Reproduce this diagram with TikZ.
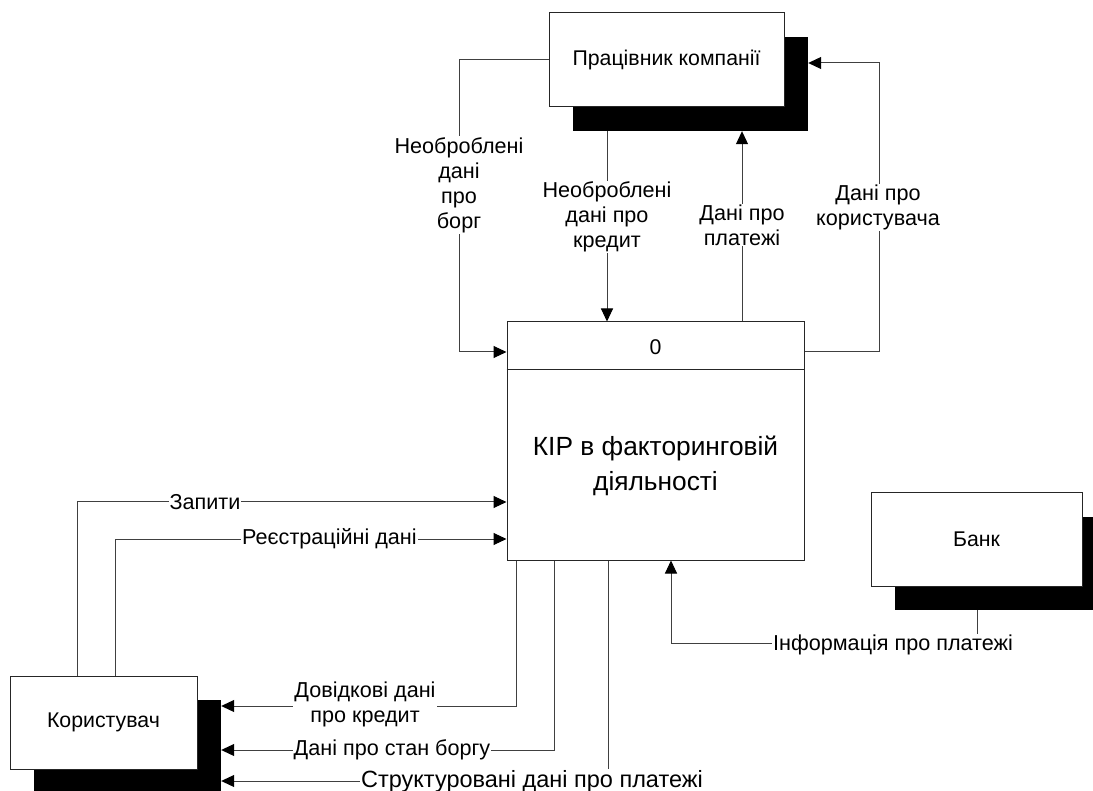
\documentclass[tikz,border=0pt]{standalone}
\usepackage{fontspec}
\setmainfont{Liberation Sans}
\usetikzlibrary{positioning,arrows.meta,backgrounds}
\tikzset{ext node/.style={rectangle,draw=black!85,fill=white,line width=1pt,inner sep=0pt,font=\fontsize{21.3}{25}\selectfont},
  shade node/.style={rectangle,fill=black,inner sep=0pt},
  flow/.style={draw=black!75,line width=1pt,-{Triangle[length=13pt,width=12pt,color=black,fill=black]}},
  flow label/.style={fill=white,inner sep=1pt,align=center,font=\fontsize{21.6}{25}\selectfont}}

\begin{document}
\begin{tikzpicture}[x=1pt,y=-1pt]
            \useasboundingbox (0,0) rectangle (1093,791);

            % externals and the process
            \node[ext node, minimum width=235pt, minimum height=94pt] (staff) at (666.5,60) {Працівник компанії};
            \node[ext node, minimum width=297pt, minimum height=238pt] (main) at (655.5,441) {};
            \node[ext node, minimum width=211pt, minimum height=93pt] (bank) at (976.5,539.5) {Банк};
            \node[ext node, minimum width=187pt, minimum height=93pt] (user) at (103.5,722.5) {Користувач};

            \begin{scope}[on background layer]
            \node[shade node, minimum width=235pt, minimum height=94pt] (staffsh) at ([shift={(24,24)}]staff.center) {};
            \node[shade node, minimum width=211pt, minimum height=93pt] (banksh) at ([shift={(24,24)}]bank.center) {};
            \node[shade node, minimum width=187pt, minimum height=93pt] (usersh) at ([shift={(24,24)}]user.center) {};
            \end{scope}

            \draw[black!85, line width=1pt] (main.west |- 0,370) -- (main.east |- 0,370);
            \node[font=\fontsize{21.3}{25}\selectfont] (mnum) at (main.north |- 0,347) {0};
            \node[font=\fontsize{26.3}{35}\selectfont, align=center] (mtitle) at (main.center |- 0,466) {КІР в факторинговій\\діяльності};

            % flows
            \draw[flow] (staff.west) -| (459,352) -- (main.west |- 0,352);
            \draw[flow] (staffsh.south -| 607,0) -- (main.north -| 607,0);
            \draw[flow] (main.north -| 742,0) -- (staffsh.south -| 742,0);
            \draw[flow] (main.east |- 0,352) -| (879,63) -- (staffsh.east |- 0,63);
            \draw[flow] (user.north -| 77,0) |- (main.west |- 0,502);
            \draw[flow] (user.north -| 115,0) |- (main.west |- 0,539);
            \draw[flow] (main.south -| 516,0) |- (usersh.east |- 0,706);
            \draw[flow] (main.south -| 554,0) |- (usersh.east |- 0,750);
            \draw[flow] (main.south -| 608,0) |- (usersh.east |- 0,781);
            \draw[flow] (banksh.south -| 977,0) |- (671,643) -- (main.south -| 671,0);

            \node[flow label] (debt) at (459,185) {Необроблені\\дані\\про\\борг};
            \node[flow label] (credit) at (607,217) {Необроблені\\дані про\\кредит};
            \node[flow label] (pay) at (742,225) {Дані про\\платежі};
            \node[flow label] (userdata) at (878,207.5) {Дані про\\користувача};
            \node[flow label] (req) at (205,502) {Запити};
            \node[flow label] (reg) at (329.5,539) {Реєстраційні дані};
            \node[flow label] (ref) at (365,704) {Довідкові дані\\про кредит};
            \node[flow label] (state) at (392,750) {Дані про стан боргу};
            \node[flow label, font=\fontsize{23.5}{25}\selectfont] (struct) at (532,781) {Структуровані дані про платежі};
            \node[flow label] (info) at (893,645) {Інформація про платежі};
\end{tikzpicture}
\end{document}
